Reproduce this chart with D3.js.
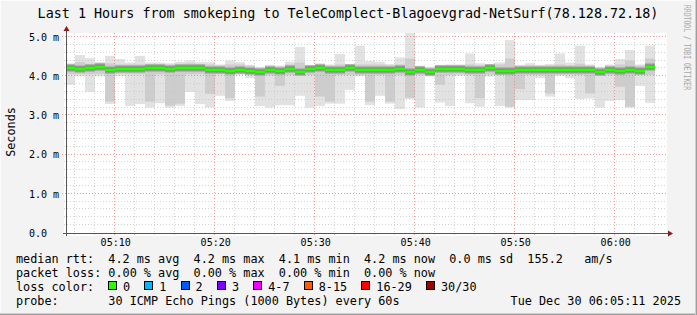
<!DOCTYPE html>
<html><head><meta charset="utf-8">
<script src="https://cdn.jsdelivr.net/npm/d3@7/dist/d3.min.js"></script>
<style>
html,body{margin:0;padding:0;background:#f3f3f3;}
svg{display:block;}
text{font-family:"DejaVu Sans Mono",monospace;white-space:pre;}
</style>
</head><body>
<svg id="chart" width="697" height="315"></svg>
<script>
// ---------------- data ----------------
const chartTitle = "Last 1 Hours from smokeping to TeleComplect-Blagoevgrad-NetSurf(78.128.72.18)";
const yAxisTitle = "Seconds";
const creditText = "RRDTOOL / TOBI OETIKER";
const rangeStart = "2025-12-30T05:05:11";
const rangeEnd = "2025-12-30T06:05:11";
const firstStep = "2025-12-30T05:05:00";
const lastStep = "2025-12-30T06:03:00";
const yTickValues = [0, 1, 2, 3, 4, 5];
const yTickLabels = ["0.0  ", "1.0 m", "2.0 m", "3.0 m", "4.0 m", "5.0 m"];
const xTickLabels = ["05:10", "05:20", "05:30", "05:40", "05:50", "06:00"];

// median round-trip time per 60 s step (ms)
const medianRtt = [4.20,4.19,4.21,4.23,4.15,4.18,4.19,4.19,4.21,4.22,
                   4.19,4.22,4.21,4.20,4.17,4.17,4.14,4.17,4.14,4.10,
                   4.16,4.14,4.18,4.10,4.19,4.20,4.15,4.17,4.20,4.15,
                   4.17,4.17,4.16,4.19,4.11,4.16,4.11,4.18,4.19,4.19,
                   4.16,4.17,4.22,4.13,4.14,4.17,4.16,4.17,4.17,4.17,
                   4.17,4.17,4.17,4.10,4.17,4.14,4.17,4.14,4.24];
// smoke: slowest / fastest ping of each step (ms)
const smokeMax = [4.33,4.54,4.46,4.36,4.52,4.44,4.35,4.52,4.35,4.35,
                  4.33,4.37,4.40,4.36,4.36,4.30,4.40,4.36,4.29,4.23,
                  4.29,4.27,4.37,4.75,4.24,4.33,4.30,4.57,4.27,4.78,
                  4.39,4.37,4.31,4.48,5.10,4.27,4.23,4.24,4.30,4.30,
                  4.58,4.33,4.30,4.35,4.92,4.29,4.33,4.29,4.31,4.58,
                  4.35,4.78,4.30,4.23,4.30,4.44,4.67,4.30,4.78];
const smokeMin = [3.78,4.00,3.60,4.00,3.29,4.00,3.24,3.29,3.20,3.31,
                  3.20,3.24,3.60,3.29,3.20,3.50,3.37,4.03,3.95,3.24,
                  3.20,3.26,3.26,3.50,3.20,3.24,3.30,3.30,3.65,4.00,
                  3.26,3.50,3.30,3.16,3.42,3.20,3.99,3.33,3.24,4.01,
                  3.31,3.22,3.99,3.24,3.20,3.39,3.39,3.95,3.48,4.01,
                  3.95,3.42,3.43,3.20,3.37,3.39,3.20,3.75,3.32];
// smoke: denser inner band of pings (ms)
const smokeUpper = [4.28,4.36,4.32,4.32,4.33,4.30,4.30,4.30,4.30,4.30,
                    4.30,4.32,4.33,4.30,4.30,4.28,4.30,4.30,4.27,4.22,
                    4.27,4.25,4.30,4.35,4.22,4.30,4.28,4.30,4.25,4.30,
                    4.30,4.30,4.28,4.30,4.45,4.25,4.22,4.22,4.27,4.27,
                    4.30,4.28,4.27,4.30,4.45,4.27,4.28,4.27,4.28,4.30,
                    4.28,4.32,4.27,4.22,4.27,4.30,4.40,4.27,4.45];
const smokeLower = [4.05,4.05,4.05,4.06,3.35,4.06,4.05,4.05,3.35,4.05,
                    3.25,3.30,4.05,4.05,3.55,4.05,3.44,4.06,4.03,3.48,
                    4.02,3.75,4.03,4.03,4.03,3.48,3.35,4.03,4.03,4.03,
                    3.35,4.03,3.35,4.03,3.45,4.03,4.03,3.78,4.03,4.05,
                    4.03,3.44,4.04,4.03,3.22,3.67,4.03,4.03,3.56,4.04,
                    4.04,4.03,3.56,4.02,4.03,3.73,3.22,4.03,4.03];

const rttStatNames = ["avg", "max", "min", "now"];
const rttStatValues = ["4.2", "4.2", "4.1", "4.2"];
const rttSd = "0.0";
const rttAms = "155.2";
const lossStatValues = ["0.00", "0.00", "0.00", "0.00"];
const lossLabels = ["0", "1", "2", "3", "4-7", "8-15", "16-29", "30/30"];
const lossColors = ["#26ff00", "#00b8ff", "#0059ff", "#7e00ff", "#ee00ff", "#ff5e00", "#ff0000", "#a10000"];
const probeText = "30 ICMP Echo Pings (1000 Bytes) every 60s";
const stampText = "Tue Dec 30 06:05:11 2025";

// ---------------- drawing ----------------
const W = 697, H = 315;
const plot = {left: 67, right: 667, top: 33, bottom: 233};
const svg = d3.select("#chart");
const parse = d3.timeParse("%Y-%m-%dT%H:%M:%S");
const t0 = parse(rangeStart), t1 = parse(rangeEnd);
const x = d3.scaleTime().domain([t0, t1]).range([plot.left, plot.right]);
const y = d3.scaleLinear().domain([0, 5]).range([plot.bottom, 37]);
const steps = d3.timeMinute.range(parse(firstStep), d3.timeMinute.offset(parse(lastStep), 1));
const px = v => Math.round(v) - 0.5;

// background + frame
svg.append("rect").attr("width", W).attr("height", H).attr("fill", "#f3f3f3");
svg.append("rect").attr("x", 64).attr("y", plot.top).attr("width", plot.right - 64).attr("height", 236 - plot.top).attr("fill", "#ffffff");
svg.append("line").attr("x1", 0).attr("x2", W).attr("y1", 0.5).attr("y2", 0.5).attr("stroke", "#fcfcfc");
svg.append("line").attr("x1", 0.5).attr("x2", 0.5).attr("y1", 0).attr("y2", H).attr("stroke", "#fcfcfc");
svg.append("line").attr("x1", 0).attr("x2", W).attr("y1", H - 1.5).attr("y2", H - 1.5).attr("stroke", "#cfcfcf");
svg.append("line").attr("x1", 0).attr("x2", W).attr("y1", H - 0.5).attr("y2", H - 0.5).attr("stroke", "#9e9e9e");
svg.append("line").attr("x1", W - 1.5).attr("x2", W - 1.5).attr("y1", 0).attr("y2", H).attr("stroke", "#cfcfcf");
svg.append("line").attr("x1", W - 0.5).attr("x2", W - 0.5).attr("y1", 0).attr("y2", H).attr("stroke", "#9e9e9e");

// clip
svg.append("clipPath").attr("id", "clip").append("rect")
  .attr("x", plot.left).attr("y", plot.top).attr("width", plot.right - plot.left).attr("height", plot.bottom - plot.top);
const g = svg.append("g").attr("clip-path", "url(#clip)");

// smoke
const bar = g.selectAll("g.step").data(steps).join("g").attr("class", "step");
const bx = d => Math.round(x(d));
const bw = d => Math.round(x(d3.timeMinute.offset(d, 1))) - Math.round(x(d));
bar.append("rect").attr("x", bx).attr("width", bw)
  .attr("y", (d, i) => y(smokeMax[i])).attr("height", (d, i) => y(smokeMin[i]) - y(smokeMax[i]))
  .attr("fill", "#e2e2e2");
bar.append("rect").attr("x", bx).attr("width", bw)
  .attr("y", (d, i) => y(smokeUpper[i])).attr("height", (d, i) => y(smokeLower[i]) - y(smokeUpper[i]))
  .attr("fill", "#cdcdcd");

// grid
const gridG = svg.append("g");
const yMinor = y.ticks(25).filter(v => Math.abs(v - Math.round(v)) > 1e-6);
const yMajor = yTickValues.filter(v => v > 0);
const xMinor = d3.timeMinute.every(2).range(t0, t1).filter(d => d.getMinutes() % 10 !== 0);
const xMajor = d3.timeMinute.every(10).range(t0, t1);
gridG.selectAll("line.ymin").data(yMinor).join("line")
  .attr("x1", 64).attr("x2", plot.right).attr("y1", d => px(y(d))).attr("y2", d => px(y(d)))
  .attr("stroke", "#c4c4c4").attr("stroke-opacity", 0.75).attr("stroke-dasharray", "1,2");
gridG.selectAll("line.xmin").data(xMinor).join("line")
  .attr("x1", d => px(x(d))).attr("x2", d => px(x(d))).attr("y1", plot.top).attr("y2", 235)
  .attr("stroke", "#c4c4c4").attr("stroke-opacity", 0.75).attr("stroke-dasharray", "1,2");
gridG.selectAll("line.ymaj").data(yMajor).join("line")
  .attr("x1", 62).attr("x2", plot.right).attr("y1", d => px(y(d))).attr("y2", d => px(y(d)))
  .attr("stroke", "#f08080").attr("stroke-opacity", 0.8).attr("stroke-dasharray", "1,2");
gridG.selectAll("line.xmaj").data(xMajor).join("line")
  .attr("x1", d => px(x(d))).attr("x2", d => px(x(d))).attr("y1", plot.top).attr("y2", 237)
  .attr("stroke", "#f08080").attr("stroke-opacity", 0.8).attr("stroke-dasharray", "1,2");

// median per step: gray core, dark rim, green line
const mg = svg.append("g").attr("clip-path", "url(#clip)");
const med = mg.selectAll("g.med").data(steps).join("g").attr("class", "med");
med.append("rect").attr("x", bx).attr("width", bw)
  .attr("y", (d, i) => Math.round(y(medianRtt[i])) - 4).attr("height", 8).attr("fill", "#b2b2b2");
med.append("rect").attr("x", bx).attr("width", bw)
  .attr("y", (d, i) => Math.round(y(medianRtt[i])) - 2.5).attr("height", 5).attr("fill", "#7a7a7a");
med.append("rect").attr("x", bx).attr("width", bw)
  .attr("y", (d, i) => Math.round(y(medianRtt[i])) - 1.5).attr("height", 3).attr("fill", lossColors[0]);

// axes lines + arrows
svg.append("line").attr("x1", 66.5).attr("x2", 66.5).attr("y1", 236).attr("y2", 29).attr("stroke", "#555555");
svg.append("line").attr("x1", 63).attr("x2", 670).attr("y1", 233.5).attr("y2", 233.5).attr("stroke", "#555555");
svg.append("path").attr("d", "M63.5,31 L66.5,26 L69.5,31 Z").attr("fill", "#8b1a1a");
svg.append("path").attr("d", "M668,230.5 L673,233.5 L668,236.5 Z").attr("fill", "#8b1a1a");

// y axis labels
const yAxis = d3.axisLeft(y).tickValues(yTickValues).tickSize(0).tickPadding(8)
  .tickFormat((d, i) => yTickLabels[i]);
const ya = svg.append("g").attr("transform", "translate(67,0)").call(yAxis);
ya.select(".domain").remove();
ya.selectAll("text").attr("font-family", "DejaVu Sans Mono").attr("font-size", 10).attr("fill", "#000");

// x axis labels
const xAxis = d3.axisBottom(x).tickValues(xMajor).tickSize(0).tickPadding(6)
  .tickFormat((d, i) => xTickLabels[i]);
const xa = svg.append("g").attr("transform", "translate(0,233)").call(xAxis);
xa.select(".domain").remove();
xa.selectAll("text").attr("font-family", "DejaVu Sans Mono").attr("font-size", 10).attr("fill", "#000");

// title and side texts
svg.append("text").attr("x", 348).attr("y", 18).attr("text-anchor", "middle")
  .attr("font-size", 13.4).attr("fill", "#000").text(chartTitle);
svg.append("text").attr("transform", "translate(15,132) rotate(-90)").attr("text-anchor", "middle")
  .attr("font-size", 11.8).attr("fill", "#000").text(yAxisTitle);
svg.append("text").attr("transform", "translate(684,5) rotate(90)")
  .attr("font-size", 8).attr("fill", "#a8a8a8")
  .attr("textLength", 85).attr("lengthAdjust", "spacingAndGlyphs").text(creditText);

// legend
const LF = 11.8, CW = 7.1, L0 = 16;
const rows = [263, 277, 291, 305];
const pad = (s, n) => s + " ".repeat(Math.max(0, n - s.length));
let row1 = pad("median rtt:", 13);
rttStatNames.forEach((n, i) => { row1 += pad(rttStatValues[i] + " ms " + n, 12); });
row1 += pad(rttSd + " ms sd", 11) + pad(rttAms, 8) + "am/s";
let row2 = pad("packet loss:", 13);
rttStatNames.forEach((n, i) => { row2 += pad(lossStatValues[i] + " % " + n, 12); });
svg.append("text").attr("x", L0).attr("y", rows[0]).attr("font-size", LF).attr("fill", "#000").text(row1);
svg.append("text").attr("x", L0).attr("y", rows[1]).attr("font-size", LF).attr("fill", "#000").text(row2);
svg.append("text").attr("x", L0).attr("y", rows[2]).attr("font-size", LF).attr("fill", "#000").text("loss color:");
let lx = L0 + 13 * CW - 0.3;
lossLabels.forEach((lab, i) => {
  svg.append("rect").attr("x", Math.round(lx) + 0.5).attr("y", rows[2] - 9.5).attr("width", 8).attr("height", 8)
    .attr("fill", lossColors[i]).attr("stroke", "#000").attr("stroke-width", 1);
  svg.append("text").attr("x", lx + 15).attr("y", rows[2]).attr("font-size", LF).attr("fill", "#000").text(lab);
  lx += 15 + CW * (lab.length + 2);
});
svg.append("text").attr("x", L0).attr("y", rows[3]).attr("font-size", LF).attr("fill", "#000").text(pad("probe:", 13) + probeText);
svg.append("text").attr("x", 681).attr("y", rows[3]).attr("text-anchor", "end").attr("font-size", LF).attr("fill", "#000").text(stampText);
</script>
</body></html>
